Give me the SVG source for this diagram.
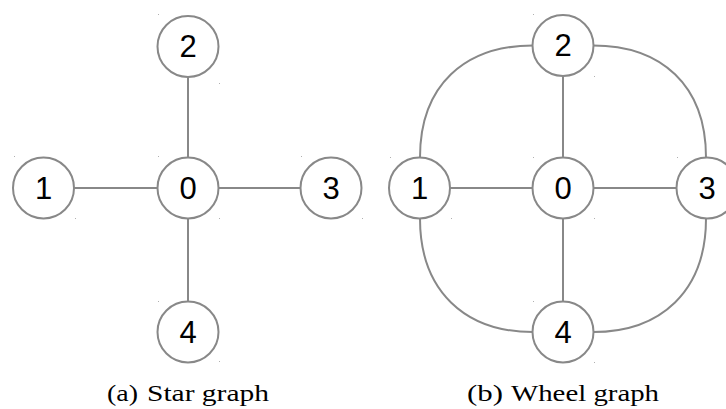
<svg xmlns="http://www.w3.org/2000/svg" width="726" height="409" viewBox="0 0 726 409">
  <style>
    .edge { fill: none; stroke: #888888; stroke-width: 2; }
    .node circle { fill: #ffffff; stroke: #888888; stroke-width: 2; }
    .node text { font-family: "Liberation Sans", Arial, sans-serif; font-size: 31px; fill: #000000; text-anchor: middle; dominant-baseline: central; }
    .speck { fill: #b0b0b0; }
    .caption { font-family: "Liberation Serif", "Times New Roman", serif; font-size: 24px; fill: #000000; }
  </style>

  <!-- (a) star graph: edges -->
  <g id="star-edges">
    <line class="edge" x1="188" y1="77" x2="188" y2="157"/>
    <line class="edge" x1="74" y1="188" x2="157" y2="188"/>
    <line class="edge" x1="219" y1="188" x2="300" y2="188"/>
    <line class="edge" x1="188" y1="219" x2="188" y2="301"/>
  </g>

  <!-- (a) star graph: nodes -->
  <g id="star-node-0" class="node"><circle cx="188" cy="188" r="30.5"/><text x="188" y="188">0</text></g>
  <g id="star-node-1" class="node"><circle cx="43.5" cy="188" r="30.5"/><text x="43.5" y="188">1</text></g>
  <g id="star-node-2" class="node"><circle cx="188" cy="46.5" r="30.5"/><text x="188" y="46.5">2</text></g>
  <g id="star-node-3" class="node"><circle cx="331" cy="188" r="30.5"/><text x="331" y="188">3</text></g>
  <g id="star-node-4" class="node"><circle cx="188" cy="332" r="30.5"/><text x="188" y="332">4</text></g>

  <!-- (b) wheel graph: edges (spokes and rim) -->
  <g id="wheel-edges">
    <line class="edge" x1="563" y1="76" x2="563" y2="157"/>
    <line class="edge" x1="450" y1="188" x2="532" y2="188"/>
    <line class="edge" x1="594" y1="188" x2="676" y2="188"/>
    <line class="edge" x1="563" y1="219" x2="563" y2="301"/>
    <path class="edge" d="M533,45.5 C465,45.5 420,85 420,157.5"/>
    <path class="edge" d="M593,45.5 C661,45.5 706,85 706,157.5"/>
    <path class="edge" d="M420,218.5 C420,291 465,332 533,332"/>
    <path class="edge" d="M706,218.5 C706,291 661,332 593,332"/>
  </g>

  <!-- (b) wheel graph: nodes -->
  <g id="wheel-node-0" class="node"><circle cx="563" cy="188" r="30.5"/><text x="563" y="188">0</text></g>
  <g id="wheel-node-1" class="node"><circle cx="419.5" cy="188" r="30.5"/><text x="419.5" y="188">1</text></g>
  <g id="wheel-node-2" class="node"><circle cx="563" cy="45.5" r="30.5"/><text x="563" y="45.5">2</text></g>
  <g id="wheel-node-3" class="node"><circle cx="707" cy="188" r="30.5"/><text x="707" y="188">3</text></g>
  <g id="wheel-node-4" class="node"><circle cx="563" cy="332" r="30.5"/><text x="563" y="332">4</text></g>

  <!-- faint corner marks around node boxes -->
  <g id="specks">
    <rect class="speck" x="158" y="14" width="1" height="1"/>
    <rect class="speck" x="219" y="83" width="1" height="1"/>
    <rect class="speck" x="14" y="156" width="1" height="1"/>
    <rect class="speck" x="75" y="218" width="1" height="1"/>
    <rect class="speck" x="158" y="156" width="1" height="1"/>
    <rect class="speck" x="219" y="218" width="1" height="1"/>
    <rect class="speck" x="301" y="156" width="1" height="1"/>
    <rect class="speck" x="362" y="218" width="1" height="1"/>
    <rect class="speck" x="158" y="301" width="1" height="1"/>
    <rect class="speck" x="219" y="361" width="1" height="1"/>
    <rect class="speck" x="533" y="14" width="1" height="1"/>
    <rect class="speck" x="594" y="76" width="1" height="1"/>
    <rect class="speck" x="390" y="157" width="1" height="1"/>
    <rect class="speck" x="451" y="218" width="1" height="1"/>
    <rect class="speck" x="533" y="157" width="1" height="1"/>
    <rect class="speck" x="594" y="218" width="1" height="1"/>
    <rect class="speck" x="677" y="157" width="1" height="1"/>
    <rect class="speck" x="533" y="301" width="1" height="1"/>
    <rect class="speck" x="594" y="362" width="1" height="1"/>
  </g>

  <!-- captions -->
  <g id="captions">
    <text class="caption" x="107" y="401" textLength="31" lengthAdjust="spacingAndGlyphs">(a)</text>
    <text class="caption" x="147" y="401" textLength="122" lengthAdjust="spacingAndGlyphs">Star graph</text>
    <text class="caption" x="467" y="401" textLength="36" lengthAdjust="spacingAndGlyphs">(b)</text>
    <text class="caption" x="511" y="401" textLength="148" lengthAdjust="spacingAndGlyphs">Wheel graph</text>
  </g>
</svg>
